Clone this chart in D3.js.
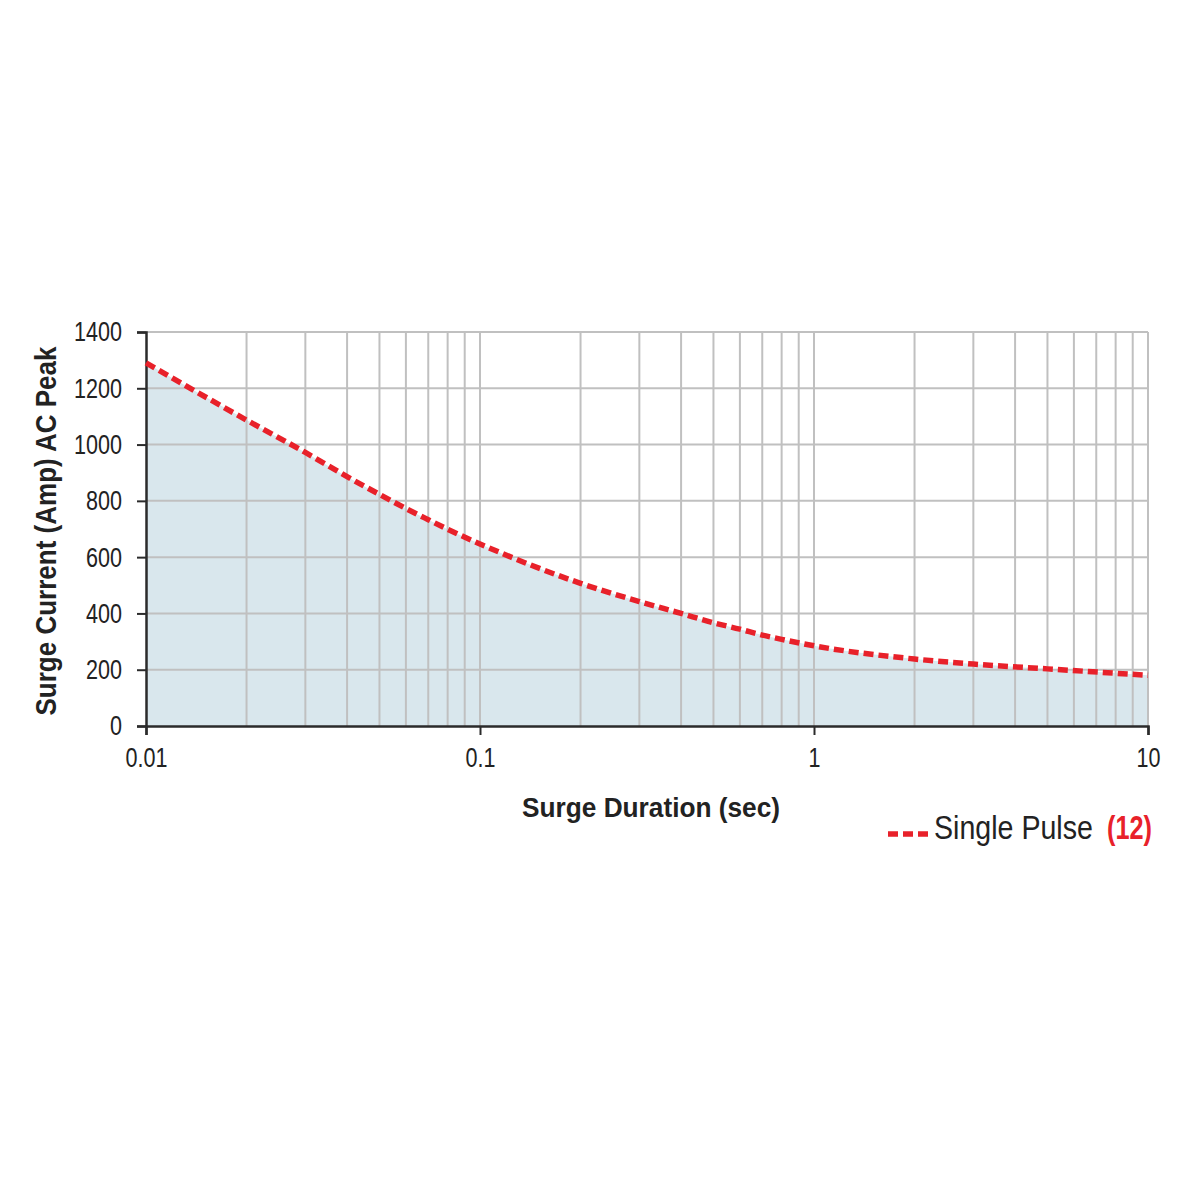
<!DOCTYPE html>
<html><head><meta charset="utf-8">
<script src="https://cdn.jsdelivr.net/npm/d3@7"></script>
<style>
html,body{margin:0;padding:0;background:#fff;}
text{font-family:"Liberation Sans",Arial,sans-serif;}
</style></head>
<body>
<svg id="chart" width="1181" height="1181"></svg>
<script>
const durations = [0.01,0.02,0.03,0.04,0.05,0.06,0.07,0.08,0.1,0.2,0.3,0.4,0.5,0.6,0.7,0.8,1,2,3,5,10];
const current   = [1290,1087,972,886,823,773,733,699,647,507,442,400,367,344,323,308,285,238,220,203,180];
const xTicks = [0.01,0.1,1,10];
const xTickLabels = ["0.01","0.1","1","10"];
const yTicks = [0,200,400,600,800,1000,1200,1400];
const seriesName = "Single Pulse";
const seriesNote = "(12)";

const svg = d3.select("#chart");
const L=146,R=1148,T=332,B=726;
const x = d3.scaleLog().domain([0.01,10]).range([L,R]);
const y = d3.scaleLinear().domain([0,1400]).range([B,T]);
const squeeze = 0.77;
function fitWidth(sel, w){ sel.attr("lengthAdjust","spacingAndGlyphs").attr("textLength", w); }
function shrink(sel, f){ sel.each(function(){ const n=this.getComputedTextLength(); d3.select(this).attr("lengthAdjust","spacingAndGlyphs").attr("textLength", n*f); }); }
// place a text so that it starts at (x0, y0) and is exactly w wide, by horizontal scaling
function scaledText(x0, y0, w, size, weight, fill, str){
  const gg = svg.append("g");
  const t = gg.append("text").attr("font-size",size).attr("font-weight",weight).attr("fill",fill).text(str);
  const n = t.node().getComputedTextLength();
  gg.attr("transform",`translate(${x0},${y0}) scale(${w/n},1)`);
  return t;
}

const gridX = [];
for (let d=0.01; d<10; d*=10) for (let k=1;k<=10;k++) gridX.push(+(d*k).toPrecision(3));
const g = svg.append("g");
const pts = durations.map((d,i)=>[d,current[i]]);
const area = d3.area().x(d=>x(d[0])).y0(y(0)).y1(d=>y(d[1])).curve(d3.curveMonotoneX);
g.append("path").datum(pts).attr("d",area).attr("fill","#d9e7ed");
g.selectAll(".gx").data(gridX.filter(v=>v>0.01)).join("line")
 .attr("x1",d=>x(d)).attr("x2",d=>x(d)).attr("y1",T).attr("y2",B)
 .attr("stroke","#c0c0c0").attr("stroke-width",2);
g.selectAll(".gy").data(yTicks.filter(v=>v>0)).join("line")
 .attr("x1",L).attr("x2",R).attr("y1",d=>y(d)).attr("y2",d=>y(d))
 .attr("stroke","#c0c0c0").attr("stroke-width",2);

const yAxis = d3.axisLeft(y).tickValues(yTicks).tickSize(9).tickPadding(15).tickFormat(d3.format("d"));
const ya = svg.append("g").attr("transform",`translate(${L},0)`).call(yAxis);
ya.select(".domain").attr("stroke","#2b2b2b").attr("stroke-width",2.5);
ya.selectAll(".tick line").attr("stroke","#2b2b2b").attr("stroke-width",2);
ya.selectAll(".tick text").attr("font-size",28).attr("fill","#222").attr("font-family",null);
shrink(ya.selectAll(".tick text"), squeeze);

const xAxis = d3.axisBottom(x).tickValues(xTicks).tickSize(9).tickPadding(12).tickFormat((d,i)=>xTickLabels[i]);
const xa = svg.append("g").attr("transform",`translate(0,${B})`).call(xAxis);
xa.select(".domain").attr("stroke","#2b2b2b").attr("stroke-width",2.5);
xa.selectAll(".tick line").attr("stroke","#2b2b2b").attr("stroke-width",2);
xa.selectAll(".tick text").attr("font-size",28).attr("fill","#222").attr("font-family",null);
shrink(xa.selectAll(".tick text"), squeeze);

const line = d3.line().x(d=>x(d[0])).y(d=>y(d[1])).curve(d3.curveMonotoneX);
svg.append("path").datum(pts).attr("d",line).attr("fill","none")
 .attr("stroke","#e8212a").attr("stroke-width",5.5).attr("stroke-dasharray","10,5");

const xt = svg.append("text").attr("x",651).attr("y",817).attr("text-anchor","middle")
 .attr("font-size",28).attr("font-weight","bold").attr("fill","#222").text("Surge Duration (sec)");
fitWidth(xt, 258);
const yt = svg.append("text").attr("transform","translate(56,531) rotate(-90)").attr("text-anchor","middle")
 .attr("font-size",29).attr("font-weight","bold").attr("fill","#222").text("Surge Current (Amp) AC Peak");
fitWidth(yt, 369);

svg.append("line").attr("x1",888).attr("x2",928).attr("y1",834).attr("y2",834)
 .attr("stroke","#e8212a").attr("stroke-width",5.5).attr("stroke-dasharray","10,5");
scaledText(934, 839, 159, 33, "normal", "#222", seriesName);
scaledText(1107, 839, 45, 33, "bold", "#e8212a", seriesNote);
</script>
</body></html>
